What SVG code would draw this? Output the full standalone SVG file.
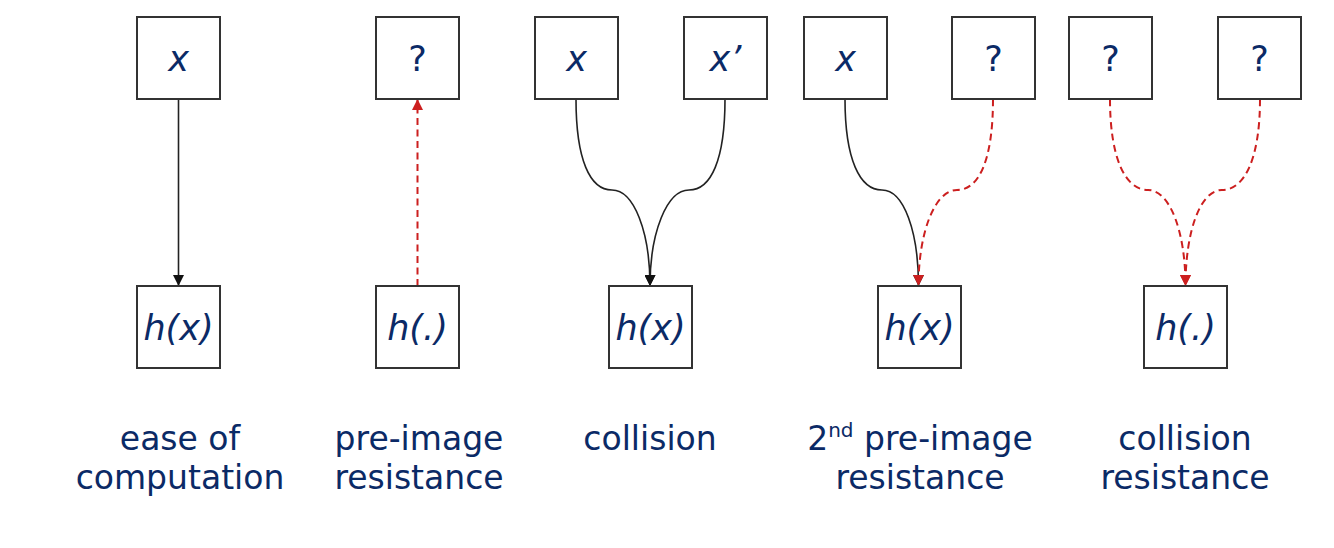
<svg xmlns="http://www.w3.org/2000/svg" width="1334" height="548" viewBox="0 0 1334 548">
<style>
.box{fill:#fff;stroke:#333;stroke-width:2}
.t{font-family:"DejaVu Sans","Liberation Sans",sans-serif;fill:#0b2a66;text-anchor:middle}
.n{font-size:35px}
.i{font-style:italic}
.lab{font-size:33px}
.blk{fill:none;stroke:#222;stroke-width:1.6}
.red{fill:none;stroke:#cc1f1f;stroke-width:2;stroke-dasharray:7 4.5}
</style>
<defs>
<marker id="ab" viewBox="0 0 10 10" refX="10" refY="5" markerWidth="12" markerHeight="11" markerUnits="userSpaceOnUse" orient="auto"><path d="M0,0 L10,5 L0,10 z" fill="#111"/></marker>
<marker id="ar" viewBox="0 0 10 10" refX="10" refY="5" markerWidth="12" markerHeight="11" markerUnits="userSpaceOnUse" orient="auto"><path d="M0,0 L10,5 L0,10 z" fill="#cc1f1f"/></marker>
</defs>
<rect width="1334" height="548" fill="#fff"/>
<g id="connectors">
<path class="blk" d="M178.5,99 L178.5,286" marker-end="url(#ab)"/>
<path class="red" d="M417.5,286 L417.5,99" marker-end="url(#ar)"/>
<path class="blk" d="M576,99 C576,160 590,190 612,190 C634,190 650,232 650,286" marker-end="url(#ab)"/>
<path class="blk" d="M725,99 C725,160 711,190 689,190 C667,190 650,232 650,286" marker-end="url(#ab)"/>
<path class="blk" d="M845,99 C845,160 860,190 882,190 C904,190 918.5,232 918.5,286" marker-end="url(#ab)"/>
<path class="red" d="M993,99 C993,160 979,190 957,190 C935,190 918.5,232 918.5,286" marker-end="url(#ar)"/>
<path class="red" d="M1110,99 C1110,160 1126,190 1148,190 C1170,190 1185.5,232 1185.5,286" marker-end="url(#ar)"/>
<path class="red" d="M1260,99 C1260,160 1244,190 1222,190 C1200,190 1185.5,232 1185.5,286" marker-end="url(#ar)"/>
</g>
<g id="c1-top"><rect class="box" x="137" y="17" width="83" height="82"/><text class="t n i" x="178.5" y="71">x</text></g>
<g id="c1-bot"><rect class="box" x="137" y="286" width="83" height="82"/><text class="t n i" x="178.5" y="340">h(x)</text></g>
<g id="c2-top"><rect class="box" x="376" y="17" width="83" height="82"/><text class="t n" x="417.5" y="71">?</text></g>
<g id="c2-bot"><rect class="box" x="376" y="286" width="83" height="82"/><text class="t n i" x="417.5" y="340">h(.)</text></g>
<g id="c3-topl"><rect class="box" x="535" y="17" width="83" height="82"/><text class="t n i" x="576.5" y="71">x</text></g>
<g id="c3-topr"><rect class="box" x="684" y="17" width="83" height="82"/><text class="t n i" x="725.5" y="71">x’</text></g>
<g id="c3-bot"><rect class="box" x="609" y="286" width="83" height="82"/><text class="t n i" x="650.5" y="340">h(x)</text></g>
<g id="c4-topl"><rect class="box" x="804" y="17" width="83" height="82"/><text class="t n i" x="845.5" y="71">x</text></g>
<g id="c4-topr"><rect class="box" x="952" y="17" width="83" height="82"/><text class="t n" x="993.5" y="71">?</text></g>
<g id="c4-bot"><rect class="box" x="878" y="286" width="83" height="82"/><text class="t n i" x="919.5" y="340">h(x)</text></g>
<g id="c5-topl"><rect class="box" x="1069" y="17" width="83" height="82"/><text class="t n" x="1110.5" y="71">?</text></g>
<g id="c5-topr"><rect class="box" x="1218" y="17" width="83" height="82"/><text class="t n" x="1259.5" y="71">?</text></g>
<g id="c5-bot"><rect class="box" x="1144" y="286" width="83" height="82"/><text class="t n i" x="1185.5" y="340">h(.)</text></g>
<g id="labels">
<text class="t lab" x="180" y="450">ease of</text>
<text class="t lab" x="180" y="489">computation</text>
<text class="t lab" x="419" y="450">pre-image</text>
<text class="t lab" x="419" y="489">resistance</text>
<text class="t lab" x="650" y="450">collision</text>
<text class="t lab" x="920" y="450">2<tspan font-size="20" dy="-13">nd</tspan><tspan dy="13"> pre-image</tspan></text>
<text class="t lab" x="920" y="489">resistance</text>
<text class="t lab" x="1185" y="450">collision</text>
<text class="t lab" x="1185" y="489">resistance</text>
</g>
</svg>
